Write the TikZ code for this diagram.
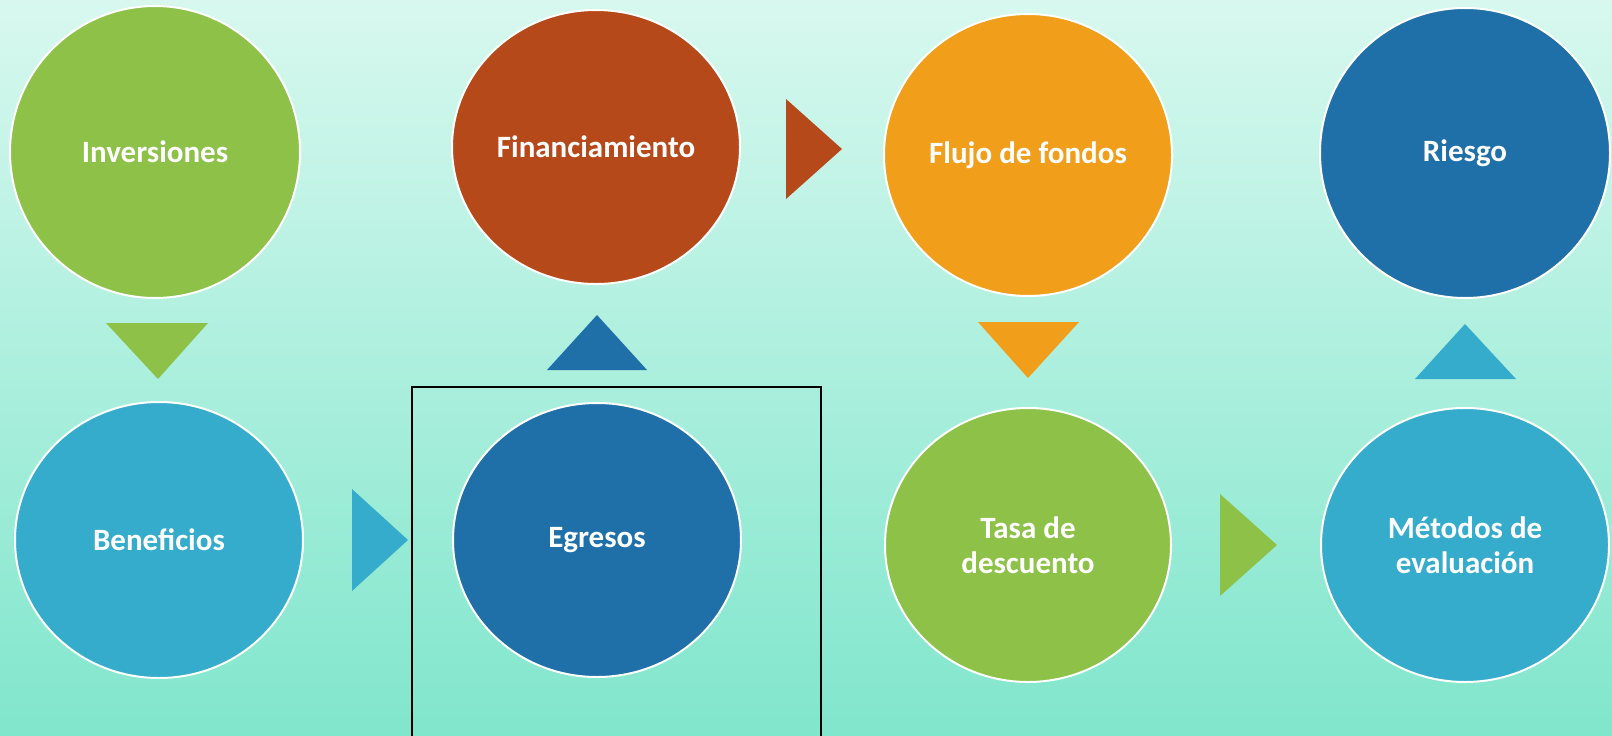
\documentclass[tikz,border=0pt]{standalone}
\usepackage{fontspec}
\setmainfont{Carlito}
\usetikzlibrary{shapes.geometric}
\definecolor{bgtop}{RGB}{216,248,239}
\definecolor{bgbot}{RGB}{128,230,204}
\definecolor{cgreen}{RGB}{141,193,72}
\definecolor{crust}{RGB}{182,73,26}
\definecolor{corange}{RGB}{241,158,27}
\definecolor{cblue}{RGB}{31,111,168}
\definecolor{ccyan}{RGB}{54,172,205}
\tikzset{
  bubble/.style={ellipse, draw=white, line width=2pt, inner sep=0pt, text=white,
    font=\fontsize{31}{35}\selectfont\bfseries, align=center},
}
\begin{document}
\begin{tikzpicture}[x=1pt,y=-1pt]
\useasboundingbox (0,0) rectangle (1612,736);
\shade[top color=bgtop, bottom color=bgbot] (0,0) rectangle (1612,736);
% frame
\draw[line width=1.8pt, black] (412,740) -- (412,387) -- (821,387) -- (821,740);
% bubbles
\node[bubble, fill=cgreen, minimum width=290, minimum height=292] (inv) at (155,152) {Inversiones};
\node[bubble, fill=crust, minimum width=288, minimum height=274] (fin) at (596,147) {Financiamiento};
\node[bubble, fill=corange, minimum width=288, minimum height=282] (flu) at (1028,155) {Flujo de fondos};
\node[bubble, fill=cblue, minimum width=290, minimum height=290] (rie) at (1465,153) {Riesgo};
\node[bubble, fill=ccyan, minimum width=288, minimum height=276] (ben) at (159,540) {Beneficios};
\node[bubble, fill=cblue, minimum width=288, minimum height=274] (egr) at (597,540) {Egresos};
\node[bubble, fill=cgreen, minimum width=286, minimum height=274] (tas) at (1028,545) {Tasa de\\descuento};
\node[bubble, fill=ccyan, minimum width=288, minimum height=274] (met) at (1465,545) {Métodos de\\evaluación};
% arrow triangles
\fill[cgreen] (106,323) -- (208,323) -- (158,379) -- cycle;
\fill[cblue] (547,370) -- (647,370) -- (597,315) -- cycle;
\fill[crust] (786,99) -- (786,199) -- (842,149) -- cycle;
\fill[corange] (978,322) -- (1079,322) -- (1028,378) -- cycle;
\fill[ccyan] (1415,379) -- (1516,379) -- (1465,324) -- cycle;
\fill[ccyan] (352,489) -- (352,591) -- (408,540) -- cycle;
\fill[cgreen] (1220,494) -- (1220,596) -- (1277,545) -- cycle;
\end{tikzpicture}
\end{document}
